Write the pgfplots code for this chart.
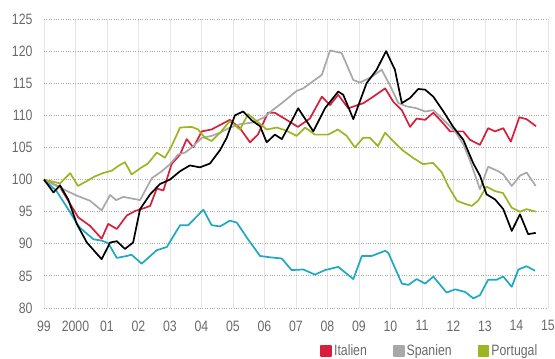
\documentclass[border=0pt]{standalone}
\usepackage{fontspec}
\setmainfont{Liberation Sans}[FakeStretch=0.82]
\usepackage{pgfplots}
\pgfplotsset{compat=1.18}
\definecolor{cRed}{HTML}{D81E3C}
\definecolor{cGray}{HTML}{A8A8A8}
\definecolor{cOlive}{HTML}{9DB523}
\definecolor{cCyan}{HTML}{1EA8C2}
\definecolor{cText}{HTML}{6A6A6A}
\begin{document}
\begin{tikzpicture}
\clip (-44pt,-51pt) rectangle (511pt,308pt);
\begin{axis}[
  scale only axis, width=504pt, height=289pt,
  xmin=0, xmax=16, ymin=80, ymax=125,
  xtick={0,1,...,16},
  xticklabels={99,2000,01,02,03,04,05,06,07,08,09,10,11,12,13,14,15},
  ytick={80,85,...,125},
  axis line style={draw=none}, major tick length=0pt,
  xmajorgrids, ymajorgrids,
  x grid style={color=black!10, line width=0.8pt},
  y grid style={color=black!35, dotted, line width=0.9pt},
  tick label style={font=\fontsize{15}{17}\selectfont, text=cText},
  /pgf/number format/assume math mode=true,
  xticklabel style={yshift=-9pt},
  yticklabel style={xshift=-8pt},
  clip=false,
  legend style={at={(rel axis cs:0.548,-0.149)}, anchor=west, draw=none, fill=none,
    font=\fontsize{15}{17}\selectfont, text=cText, inner sep=0pt,
    /tikz/every even column/.append style={column sep=24pt}},
  legend columns=3,
  legend image code/.code={\fill[#1] (0pt,-5pt) rectangle (10pt,5pt);},
  every axis plot/.append style={line width=1.7pt, line join=round},
]
% Cyan
\addplot[cCyan, forget plot] coordinates {
(0,100)(0.4,98.2)(0.83,94.9)(1.04,93.2)(1.14,92.5)(1.57,90.7)(1.83,90.5)(2.04,90.1)
(2.31,87.8)(2.63,88.1)(2.78,88.3)(3.1,86.9)(3.58,89)(3.9,89.5)(4.32,92.9)(4.58,92.9)
(5.06,95.3)(5.32,92.9)(5.59,92.7)(5.9,93.6)(6.12,93.3)(6.49,90.6)(6.86,88.1)(7.17,87.9)
(7.55,87.7)(7.86,85.9)(8.23,86)(8.6,85.2)(8.92,85.9)(9.34,86.4)(9.82,84.5)(10.09,88.1)
(10.4,88.1)(10.83,88.9)(10.93,88.6)(11.36,83.8)(11.57,83.6)(11.83,84.5)(12.1,83.8)
(12.36,84.9)(12.78,82.4)(13.05,82.9)(13.37,82.5)(13.63,81.5)(13.84,82)(14.1,84.4)
(14.37,84.4)(14.58,84.9)(14.85,83.3)(15.06,86)(15.32,86.5)(15.59,85.8)};
% Italien
\addplot[cRed] coordinates {
(0,100)(0.51,98.8)(1.09,94.1)(1.46,92.8)(1.83,90.8)(2.04,93.1)(2.31,92.3)(2.63,94.4)
(2.89,95.1)(3.21,95.6)(3.37,95.9)(3.58,98.6)(3.79,98.3)(4.05,102.4)(4.32,103.9)
(4.53,106.3)(4.74,105)(5.01,107.5)(5.32,107.8)(5.59,108.5)(5.9,109.3)(6.22,108)
(6.54,105.8)(6.79,107)(7.11,110.4)(7.33,110.4)(7.7,109.3)(8.06,108.2)(8.44,109.5)
(8.82,112.9)(9.08,111.6)(9.34,113.2)(9.66,111.1)(10.14,111.9)(10.45,112.9)(10.83,114.2)
(11.09,112.1)(11.36,110.8)(11.62,108.2)(11.83,109.5)(12.1,109.3)(12.36,110.4)(12.63,109)
(12.89,107.5)(13.31,107.5)(13.52,106.2)(13.84,105.4)(14.1,108)(14.32,107.5)(14.58,108)
(14.82,105.9)(15.09,109.7)(15.32,109.4)(15.62,108.3)};
\addlegendentry{Italien}
% Spanien
\addplot[cGray] coordinates {
(0,100)(0.61,98.5)(1.04,97.5)(1.46,96.7)(1.83,95.2)(2.1,97.6)(2.29,96.8)(2.52,97.3)
(3.05,96.8)(3.42,100.2)(3.74,101.3)(4.0,102.4)(4.26,103.9)(4.48,104.2)(4.74,105.2)
(5.01,106.5)(5.32,106.8)(5.59,107.3)(5.9,108.1)(6.22,108.6)(6.64,108.9)(6.96,109.6)
(7.23,110.7)(7.6,112.1)(8.02,113.8)(8.23,114.2)(8.82,116.3)(9.08,120.1)(9.45,119.7)
(9.82,115.5)(10.03,115.1)(10.4,116)(10.72,117.1)(10.98,114.7)(11.25,111.9)(11.51,111.4)
(11.83,111.1)(12.1,110.6)(12.36,110.8)(12.68,109.3)(13.05,107.5)(13.31,105.5)(13.52,103)
(13.84,98.5)(14.1,102)(14.42,101.3)(14.58,100.8)(14.85,99)(15.11,100.6)(15.32,101.1)(15.61,99)};
\addlegendentry{Spanien}
% Portugal
\addplot[cOlive] coordinates {
(0,100)(0.51,99.4)(0.83,101)(1.08,99)(1.37,99.8)(1.62,100.5)(1.87,101)(2.16,101.4)
(2.35,102.1)(2.57,102.7)(2.78,100.8)(3.1,101.9)(3.3,102.5)(3.58,104.2)(3.84,103.4)
(4.05,105.2)(4.32,108.1)(4.69,108.2)(4.89,107.8)(5.11,106.5)(5.32,106)(5.59,107.3)
(5.9,109.1)(6.22,107.8)(6.48,110.2)(6.75,109.1)(7.07,107.8)(7.39,108.1)(7.7,107.6)
(8.02,106.8)(8.29,108.1)(8.6,107)(9.02,107)(9.33,107.8)(9.61,106.8)(9.87,105)
(10.13,106.5)(10.35,106.5)(10.6,105.2)(10.83,107.3)(11.08,106)(11.4,104.5)(11.71,103.4)
(12.03,102.4)(12.35,102.6)(12.63,101.1)(12.83,99)(13.11,96.7)(13.37,96.2)(13.58,95.9)
(13.78,96.7)(14.05,98.9)(14.32,98.2)(14.57,97.9)(14.85,95.6)(15.11,95)(15.32,95.4)(15.61,95)};
\addlegendentry{Portugal}
% Black
\addplot[black, forget plot] coordinates {
(0,100)(0.3,98)(0.51,99.1)(0.77,96.9)(1.04,93.1)(1.36,90.2)(1.83,87.6)(2.1,90.2)
(2.31,90.4)(2.57,89.2)(2.83,90.2)(3.05,95.4)(3.37,97.7)(3.68,99.3)(4.0,100)(4.32,101.3)
(4.63,102.2)(4.95,101.9)(5.27,102.5)(5.59,104.6)(5.8,106.5)(6.06,110)(6.32,110.6)
(6.6,109.2)(6.86,108.3)(7.07,105.8)(7.33,107)(7.55,106.3)(7.86,109.1)(8.07,111.1)
(8.55,107.5)(8.92,111.1)(9.34,113.7)(9.5,113.2)(9.82,109.4)(10.24,115)(10.56,117.1)
(10.86,120)(11.14,117.1)(11.36,111.9)(11.62,112.7)(11.88,114.1)(12.1,114)(12.36,112.9)
(12.68,110.6)(12.99,108.2)(13.31,106.2)(13.63,102.5)(13.84,100.6)(14.05,97.7)(14.32,96.9)
(14.58,95.4)(14.85,92)(15.11,94.6)(15.37,91.5)(15.61,91.7)};
\end{axis}
\end{tikzpicture}
\end{document}
